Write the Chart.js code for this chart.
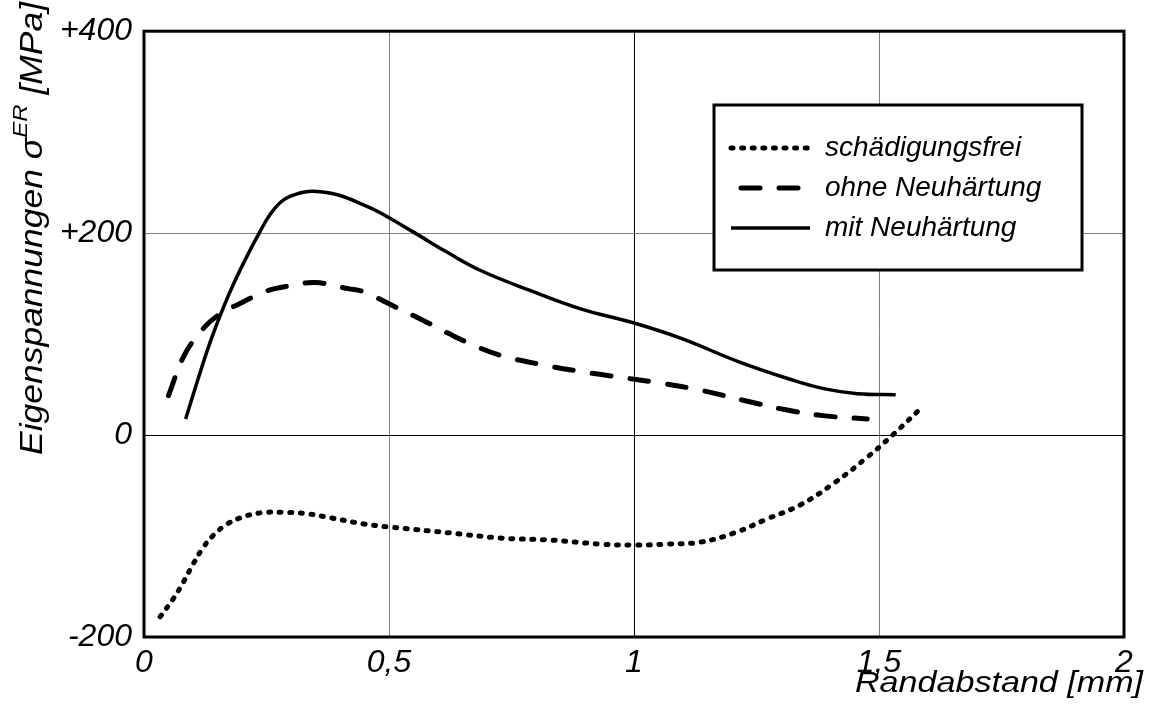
<!DOCTYPE html>
<html>
<head>
<meta charset="utf-8">
<script src="https://cdn.jsdelivr.net/npm/chart.js@4.4.0/dist/chart.umd.min.js"></script>
<style>
  body { margin: 0; background: #fff; }
</style>
</head>
<body>
<canvas id="stressChart" width="1155" height="719"></canvas>
<script>
// values (Randabstand in mm, stress in MPa)
const freiX = [0.033, 0.06, 0.08, 0.1, 0.12, 0.14, 0.17, 0.203, 0.238, 0.285, 0.333, 0.381, 0.448, 0.5, 0.626, 0.728, 0.83, 0.932, 1.0, 1.068, 1.136, 1.204, 1.272, 1.34, 1.407, 1.476, 1.53, 1.58];
const freiY = [-180, -162, -146, -128, -112, -100, -88, -81, -77, -76.5, -78, -82, -88, -91, -97, -102, -104, -108, -109, -108, -106, -97, -83, -69, -48, -22, 1, 24];

const ohneX = [0.05, 0.081, 0.115, 0.149, 0.203, 0.252, 0.3, 0.35, 0.417, 0.448, 0.5, 0.572, 0.62, 0.677, 0.727, 0.809, 0.89, 0.976, 1.06, 1.14, 1.227, 1.31, 1.39, 1.476];
const ohneY = [39, 78, 102, 118, 132, 143, 148, 151, 145, 142, 130, 113, 101, 88, 79, 70, 63, 57, 51, 44, 34, 25, 19, 16];

const mitX = [0.085, 0.11, 0.135, 0.16, 0.185, 0.21, 0.235, 0.258, 0.285, 0.32, 0.346, 0.395, 0.448, 0.483, 0.55, 0.619, 0.687, 0.789, 0.891, 1.0, 1.095, 1.217, 1.32, 1.387, 1.456, 1.534];
const mitY = [16, 55, 92, 124, 152, 177, 200, 219, 233, 240, 241.5, 238, 228, 220, 201, 181, 163, 143, 125, 111, 96, 72, 55, 46, 41, 40];

const seriesNames = ["schädigungsfrei", "ohne Neuhärtung", "mit Neuhärtung"];
const yTicks = [-200, 0, 200, 400];
const xTicks = [0, 0.5, 1, 1.5, 2];

const FONT = "'Liberation Sans', Arial, sans-serif";

function points(xs, ys) {
  return xs.map((x, i) => ({ x: x, y: ys[i] }));
}

const styles = [
  { width: 5, dash: [2, 8.6], cap: "round" },
  { width: 5, dash: [19, 19], cap: "round" },
  { width: 3.5, dash: [], cap: "butt" },
];

// frame, legend box and axis titles
const extrasPlugin = {
  id: "extras",
  afterDraw(chart) {
    const c = chart.ctx;
    const a = chart.chartArea;
    c.save();

    // legend box
    c.fillStyle = "#fff";
    c.fillRect(714, 105, 368, 165);
    c.strokeStyle = "#000";
    c.lineWidth = 3;
    c.strokeRect(714, 105, 368, 165);
    const rows = [148, 188, 228];
    rows.forEach((y, i) => {
      c.beginPath();
      c.lineWidth = styles[i].width;
      c.setLineDash(styles[i].dash);
      c.lineCap = styles[i].cap;
      if (i === 1) {
        c.moveTo(741, y);
        c.lineTo(808, y);
      } else {
        c.moveTo(731, y);
        c.lineTo(810, y);
      }
      c.stroke();
      c.setLineDash([]);
      c.fillStyle = "#000";
      c.font = "italic 28px " + FONT;
      c.textBaseline = "middle";
      c.textAlign = "left";
      c.fillText(seriesNames[i], 825, y);
    });

    // frame round the plot
    c.lineCap = "butt";
    c.lineWidth = 3;
    c.strokeStyle = "#000";
    c.strokeRect(a.left, a.top, a.right - a.left, a.bottom - a.top);

    // x title
    c.fillStyle = "#000";
    c.textBaseline = "alphabetic";
    c.font = "italic 30px " + FONT;
    const xt = "Randabstand [mm]";
    const xw = c.measureText(xt).width;
    const sx = 288 / xw;
    c.save();
    c.translate(1143, 692);
    c.scale(sx, 1);
    c.textAlign = "right";
    c.fillText(xt, 0, 0);
    c.restore();

    // y title with superscript
    c.save();
    c.translate(42, 455);
    c.rotate(-Math.PI / 2);
    const p1 = "Eigenspannungen σ";
    const sup = "ER";
    const p2 = " [MPa]";
    c.font = "italic 31px " + FONT;
    const w1 = c.measureText(p1).width;
    const w3 = c.measureText(p2).width;
    c.font = "italic 21px " + FONT;
    const w2 = c.measureText(sup).width;
    const sy = 453 / (w1 + w2 + w3);
    c.scale(sy, 1);
    c.textAlign = "left";
    c.font = "italic 31px " + FONT;
    c.fillText(p1, 0, 0);
    c.font = "italic 21px " + FONT;
    c.fillText(sup, w1, -15);
    c.font = "italic 31px " + FONT;
    c.fillText(p2, w1 + w2, 0);
    c.restore();

    c.restore();
  },
};

new Chart(document.getElementById("stressChart"), {
  type: "line",
  data: {
    datasets: [
      {
        label: seriesNames[0],
        data: points(freiX, freiY),
        borderColor: "#000",
        borderWidth: styles[0].width,
        borderDash: styles[0].dash,
        borderCapStyle: styles[0].cap,
      },
      {
        label: seriesNames[1],
        data: points(ohneX, ohneY),
        borderColor: "#000",
        borderWidth: styles[1].width,
        borderDash: styles[1].dash,
        borderCapStyle: styles[1].cap,
      },
      {
        label: seriesNames[2],
        data: points(mitX, mitY),
        borderColor: "#000",
        borderWidth: styles[2].width,
        borderDash: styles[2].dash,
        borderCapStyle: styles[2].cap,
      },
    ],
  },
  options: {
    responsive: false,
    animation: false,
    elements: { point: { radius: 0 }, line: { tension: 0.4 } },
    layout: { padding: { left: 0, top: 24, right: 31, bottom: 0 } },
    plugins: {
      legend: { display: false },
      tooltip: { enabled: false },
    },
    scales: {
      x: {
        type: "linear",
        min: 0,
        max: 2,
        afterBuildTicks(scale) {
          scale.ticks = xTicks.map((v) => ({ value: v }));
        },
        afterFit(scale) {
          scale.height = 82;
        },
        border: { display: false },
        grid: {
          drawTicks: false,
          lineWidth: 1,
          color: (ctx) => (ctx.tick && ctx.tick.value === 1 ? "#000" : "#808080"),
        },
        ticks: {
          padding: 7,
          color: "#000",
          font: { family: FONT, size: 32, style: "italic" },
          callback: (v) => String(v).replace(".", ","),
        },
      },
      y: {
        min: -200,
        max: 400,
        afterBuildTicks(scale) {
          scale.ticks = yTicks.map((v) => ({ value: v }));
        },
        afterFit(scale) {
          scale.width = 144;
        },
        border: { display: false },
        grid: {
          drawTicks: false,
          lineWidth: 1,
          color: (ctx) => (ctx.tick && ctx.tick.value === 0 ? "#000" : "#808080"),
        },
        ticks: {
          padding: 12,
          color: "#000",
          font: { family: FONT, size: 32, style: "italic" },
          callback: (v) => (v > 0 ? "+" + v : String(v)),
        },
      },
    },
  },
  plugins: [extrasPlugin],
});
</script>
</body>
</html>
